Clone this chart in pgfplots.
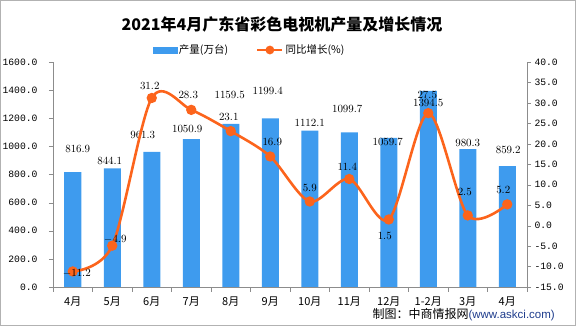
\documentclass[border=0pt]{standalone}
\usepackage{pgfplots}
\pgfplotsset{compat=1.18}
\usepackage{pgfplotstable}
\usepackage{fontspec}
\setmainfont{Liberation Sans}
\newfontfamily\cjk{Noto Sans CJK SC}
\newfontfamily\monof{Liberation Mono}
\definecolor{barblue}{RGB}{62,155,238}
\definecolor{lineor}{RGB}{252,100,28}
\definecolor{axgray}{RGB}{140,140,140}
\definecolor{urlblue}{RGB}{30,60,140}

\pgfplotstableread{
x y dy dx
0 816.9 23 5
1 844.1 7 -2.5
2 961.3 17 -9
3 1050.9 10 -4
4 1159.5 29 -1
5 1199.4 27 -2.5
6 1112.1 8 0
7 1099.7 23 -2
8 1059.7 -4 -1
9 1394.5 -12 0
10 980.3 6 0
11 859.2 16 1
}\bardata

\pgfplotstableread{
x y dy dx
0 -11.2 -1.5 4
1 -4.9 6 3
2 31.2 12 -2
3 28.3 15 -3
4 23.1 14 -2
5 16.9 14.5 2
6 5.9 13.5 0
7 11.4 12 -2
8 1.5 -16.5 -4
9 27.5 18 -1
10 2.5 23 -3
11 5.2 14 -4
}\linedata

\begin{document}
\begin{tikzpicture}
\pgfplotsset{
  common/.style={
    at={(0pt,0pt)}, anchor=south west,
    scale only axis, width=474pt, height=225pt,
    xmin=-0.5, xmax=11.5,
    axis line style={axgray,-},
    tick align=outside,
    major tick length=4pt,
    scaled y ticks=false,
    y tick label style={font=\monof\fontsize{9.7}{10}\selectfont,
      /pgf/number format/fixed, /pgf/number format/fixed zerofill,
      /pgf/number format/precision=1, /pgf/number format/1000 sep={},
      /pgf/number format/assume math mode=true},
  },
}
\begin{axis}[common,
  ymin=0, ymax=1600,
  axis x line*=bottom, axis y line*=left,
  xtick={0,...,11},
  xticklabels={4月,5月,6月,7月,8月,9月,10月,11月,12月,1-2月,3月,4月},
  x tick label style={font=\cjk\fontsize{11}{12}\selectfont, yshift=-2pt},
  major x tick style={draw=none},
  minor xtick={-0.5,0.5,...,11.5},
  minor tick length=5pt,
  minor x tick style={axgray},
  ytick={0,200,...,1600},
  y tick style={axgray},
  y tick label style={xshift=-8pt},
]
\addplot[ybar, bar width=17pt, fill=barblue, draw=none,
  visualization depends on={\thisrow{dy}\as\labdy},
  visualization depends on={\thisrow{dx}\as\labdx},
  nodes near coords={\pgfmathprintnumber[fixed,fixed zerofill,precision=1,1000 sep={}]{\pgfplotspointmeta}},
  every node near coord/.append style={black, anchor=center, inner sep=0pt,
    font=\monof\fontsize{11}{11}\selectfont, xshift=\labdx pt, yshift=\labdy pt},
] table[x=x,y=y]{\bardata};
\end{axis}
\begin{axis}[common,
  ymin=-15, ymax=40,
  axis x line=none, axis y line*=right,
  ytick={-15,-10,...,40},
  y tick style={axgray},
  legend style={at={(0.4146,1.0533)}, anchor=center, draw=none, fill=none,
    legend columns=2, font=\cjk\fontsize{10.5}{12}\selectfont,
    /tikz/every even column/.append style={column sep=26pt}, inner sep=0pt},
]
\addlegendimage{legend image code/.code={\fill[barblue] (0pt,-3pt) rectangle (24pt,3pt);}}
\addlegendentry{产量(万台)}
\addplot[lineor, line width=2.6pt, smooth, mark=*, mark size=3.8pt,
  mark options={fill=lineor, draw=none},
  visualization depends on={\thisrow{dy}\as\labdy},
  visualization depends on={\thisrow{dx}\as\labdx},
  nodes near coords={\pgfmathprintnumber[fixed,fixed zerofill,precision=1]{\pgfplotspointmeta}},
  every node near coord/.append style={black, anchor=center, inner sep=0pt,
    font=\monof\fontsize{11}{11}\selectfont, xshift=\labdx pt, yshift=\labdy pt},
  legend image code/.code={\draw[lineor,line width=2.6pt] (0pt,0pt)--(25pt,0pt); \fill[lineor] (12.5pt,0pt) circle (3pt);},
] table[x=x,y=y]{\linedata};
\addlegendentry{同比增长(\%)}
\end{axis}
\node[font=\cjk\bfseries\fontsize{16}{18}\selectfont, anchor=center] at (229pt,263pt) {2021年4月广东省彩色电视机产量及增长情况};
\node[anchor=east, inner sep=0pt] at (502pt,-28pt) {{\cjk\fontsize{12}{13}\selectfont 制图：中商情报网}{\color{urlblue}\fontsize{11.5}{13}\selectfont (www.askci.com)}};
\draw[gray!60, line width=1pt] (-52.5pt,-38.5pt) rectangle (522.5pt,286.5pt);
\pgfresetboundingbox
\useasboundingbox (-53pt,-39pt) rectangle (523pt,287pt);
\end{tikzpicture}
\end{document}
